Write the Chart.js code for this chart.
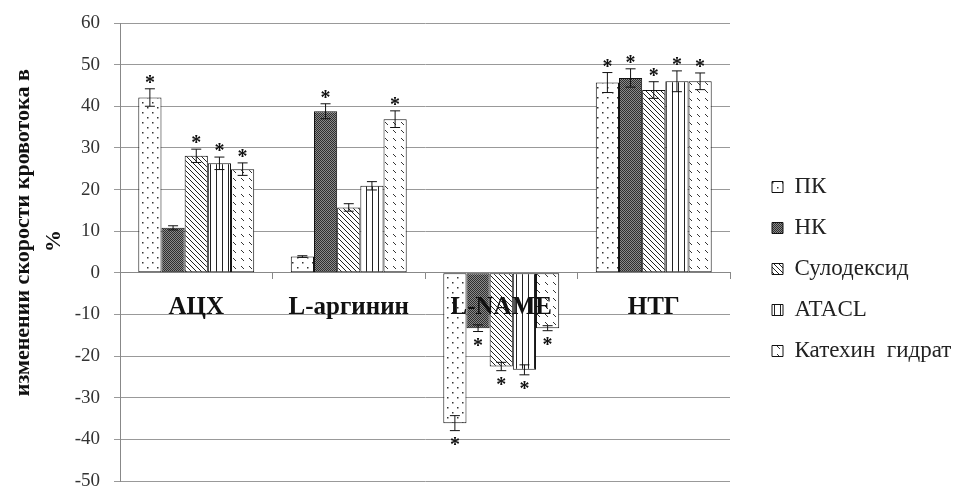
<!DOCTYPE html>
<html>
<head>
<meta charset="utf-8">
<script src="https://cdn.jsdelivr.net/npm/chart.js@4.4.1/dist/chart.umd.min.js"></script>
<style>
  html, body { margin: 0; padding: 0; background: #fff; }
  #wrap { width: 960px; height: 490px; }
</style>
</head>
<body>
<div id="wrap"><canvas id="flowChart" width="960" height="490"></canvas></div>
<script>
// categories and series
var groups = ["АЦХ", "L-аргинин", "L-NAME", "НТГ"];
var seriesNames = ["ПК", "НК", "Сулодексид", "ATACL", "Катехин  гидрат"];

var pkVals   = [42.1, 3.9, -36.1, 45.7];
var nkVals   = [10.8, 38.8, -13.3, 46.8];
var sulVals  = [28.1, 15.7, -22.5, 43.9];
var ataVals  = [26.3, 20.9, -23.3, 46.0];
var katVals  = [24.9, 36.9, -13.3, 46.0];

// error bar half-widths
var pkErr  = [2.1, 0.2, 1.8, 2.4];
var nkErr  = [0.5, 1.8, 0.8, 2.2];
var sulErr = [1.6, 0.9, 1.0, 2.0];
var ataErr = [1.5, 1.0, 1.2, 2.5];
var katErr = [1.5, 2.0, 0.6, 2.0];

// significance marks
var pkStar  = [true, false, true, true];
var nkStar  = [false, true, true, true];
var sulStar = [true, false, true, true];
var ataStar = [true, false, true, true];
var katStar = [true, true, true, true];

var yTicks = [60, 50, 40, 30, 20, 10, 0, -10, -20, -30, -40, -50];

function makePattern(w, h, draw) {
  var c = document.createElement("canvas");
  c.width = w; c.height = h;
  var g = c.getContext("2d");
  g.fillStyle = "#fff";
  g.fillRect(0, 0, w, h);
  draw(g);
  return document.getElementById("flowChart").getContext("2d").createPattern(c, "repeat");
}

var patDots = makePattern(10, 10, function (g) {
  g.fillStyle = "#333";
  g.fillRect(2, 2, 1.5, 1.5);
  g.fillRect(7, 7, 1.5, 1.5);
});
var patDark = makePattern(2, 2, function (g) {
  g.fillStyle = "#2e2e2e";
  g.fillRect(0, 0, 1, 1);
  g.fillRect(1, 1, 1, 1);
  g.fillStyle = "#8a8a8a";
  g.fillRect(1, 0, 1, 1);
  g.fillRect(0, 1, 1, 1);
});
var patDiag = makePattern(5, 5, function (g) {
  g.strokeStyle = "#222";
  g.lineWidth = 1;
  g.beginPath();
  g.moveTo(-1, -1); g.lineTo(6, 6);
  g.moveTo(-1, 4); g.lineTo(1, 6);
  g.moveTo(4, -1); g.lineTo(6, 1);
  g.stroke();
});
var patVert = makePattern(6, 6, function (g) {
  g.fillStyle = "#222";
  g.fillRect(0, 0, 1, 6);
});
var patDash = makePattern(8, 8, function (g) {
  g.strokeStyle = "#333";
  g.lineWidth = 1;
  g.beginPath();
  g.moveTo(1, 2); g.lineTo(4, 5);
  g.stroke();
});

var errs = [pkErr, nkErr, sulErr, ataErr, katErr];
var stars = [pkStar, nkStar, sulStar, ataStar, katStar];

var errorBars = {
  id: "errorBars",
  afterDatasetsDraw: function (chart) {
    var ctx = chart.ctx;
    var ys = chart.scales.y;
    ctx.save();
    chart.data.datasets.forEach(function (ds, di) {
      var meta = chart.getDatasetMeta(di);
      meta.data.forEach(function (bar, i) {
        var v = ds.data[i];
        var e = errs[di][i];
        var yHi = ys.getPixelForValue(v + e);
        var yLo = ys.getPixelForValue(v - e);
        ctx.strokeStyle = "#111";
        ctx.lineWidth = 1;
        ctx.beginPath();
        ctx.moveTo(bar.x, yHi); ctx.lineTo(bar.x, yLo);
        ctx.moveTo(bar.x - 5, yHi); ctx.lineTo(bar.x + 5, yHi);
        ctx.moveTo(bar.x - 5, yLo); ctx.lineTo(bar.x + 5, yLo);
        ctx.stroke();
        if (stars[di][i]) {
          ctx.fillStyle = "#111";
          ctx.font = "bold 20px 'Liberation Serif'";
          ctx.textAlign = "center";
          ctx.textBaseline = "middle";
          var sy = v >= 0 ? yHi - 8 : yLo + 12;
          ctx.fillText("*", bar.x, sy + 3);
        }
      });
    });
    ctx.restore();
  }
};

var fills = [patDots, patDark, patDiag, patVert, patDash];
var valueSets = [pkVals, nkVals, sulVals, ataVals, katVals];

var barData = {
  labels: groups,
  datasets: seriesNames.map(function (name, k) {
    return {
      label: name,
      data: valueSets[k],
      backgroundColor: fills[k],
      borderColor: "#111",
      borderWidth: 1,
      borderSkipped: false,
      categoryPercentage: 0.76,
      barPercentage: 1.0,
      yAxisID: "y"
    };
  })
};

var nb = "\u00A0";

var chartOptions = {
  responsive: false,
  animation: false,
  layout: { padding: { top: 23, right: 0, bottom: 9, left: 0 } },
  plugins: {
    tooltip: { enabled: false },
    legend: {
      position: "right",
      maxWidth: 206,
      title: { display: true, text: " ", font: { size: 10 }, padding: 11 },
      labels: {
        font: { family: "'Liberation Serif'", size: 23 },
        color: "#222",
        boxWidth: 11,
        boxHeight: 11,
        padding: 18
      }
    }
  },
  scales: {
    x: {
      position: { y: 0 },
      grid: {
        offset: true,
        drawOnChartArea: false,
        color: "#888",
        tickLength: 6
      },
      border: { color: "#888" },
      ticks: {
        z: 1,
        font: { family: "'Liberation Serif'", size: 25, weight: "bold" },
        color: "#111",
        padding: 14,
        autoSkip: false,
        maxRotation: 0
      }
    },
    y: {
      min: -50,
      max: 60,
      afterFit: function (scale) {
        scale.width = 120;
        scale.paddingTop = 0;
        scale.paddingBottom = 0;
      },
      afterBuildTicks: function (scale) {
        scale.ticks = yTicks.map(function (t) { return { value: t }; });
      },
      grid: { color: "#999", tickLength: 6 },
      border: { color: "#888" },
      ticks: {
        font: { family: "'Liberation Serif'", size: 19 },
        color: "#333",
        padding: 14
      },
      title: {
        display: true,
        text: [nb.repeat(7) + "изменении скорости кровотока в", nb.repeat(4) + "%"],
        font: { family: "'Liberation Serif'", size: 22, weight: "bold", lineHeight: 1.4 },
        color: "#111",
        padding: { top: 8, bottom: 0 }
      }
    },
    y2: {
      position: "right",
      display: true,
      grid: { display: false },
      ticks: { display: false },
      border: { display: false },
      afterFit: function (scale) { scale.width = 24; }
    }
  }
};

new Chart(document.getElementById("flowChart"), {
  type: "bar",
  data: barData,
  options: chartOptions,
  plugins: [errorBars]
});
</script>
</body>
</html>
